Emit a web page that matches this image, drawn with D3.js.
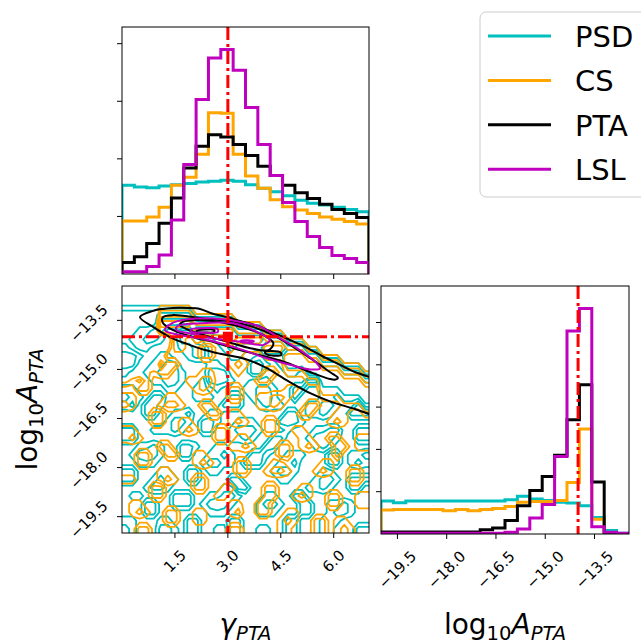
<!DOCTYPE html>
<html>
<head>
<meta charset="utf-8">
<script src="https://cdn.jsdelivr.net/npm/d3@7"></script>
<style>
  body { margin: 0; background: #fff; }
  svg text { font-family: "DejaVu Sans", sans-serif; }
</style>
</head>
<body>
<svg id="fig" width="641" height="644"></svg>
<script>
// series and colours (matplotlib c / orange / k / m)
const seriesNames = ["PSD", "CS", "PTA", "LSL"];
const seriesColors = ["#00bfbf", "#ffa500", "#000000", "#bf00bf"];

// axis ranges, ticks and injected values
const gammaRange = [0, 7];
const logARange = [-20, -12.45];
const gammaTicks = [1.5, 3.0, 4.5, 6.0];
const logATicks = [-19.5, -18.0, -16.5, -15.0, -13.5];
const gammaTrue = 3.0;
const logATrue = -14.0;

// 1D marginals, 20 bins each
const gammaPSD = [1.54,1.51,1.50,1.53,1.55,1.57,1.60,1.61,1.63,1.61,1.55,1.49,1.43,1.36,1.28,1.23,1.20,1.16,1.12,1.08];
const gammaCS  = [0.92,0.92,0.99,1.16,1.54,1.68,2.08,2.80,2.79,2.08,1.70,1.49,1.29,1.17,1.11,1.05,0.99,0.95,0.91,0.87];
const gammaPTA = [0.20,0.30,0.53,0.88,1.32,1.84,2.22,2.42,2.38,2.25,2.06,1.87,1.71,1.54,1.41,1.31,1.21,1.12,1.05,0.98];
const gammaLSL = [0.04,0.04,0.13,0.33,0.94,1.90,3.03,3.75,3.90,3.54,2.89,2.25,1.71,1.24,0.91,0.65,0.46,0.32,0.27,0.20];

const logAPSD = [0.78,0.74,0.78,0.78,0.78,0.78,0.78,0.78,0.78,0.78,0.81,0.89,0.83,0.79,0.75,0.73,0.67,0.39,0.08,0.02];
const logACS  = [0.57,0.58,0.58,0.58,0.58,0.55,0.58,0.55,0.58,0.60,0.65,0.75,0.77,0.77,0.79,1.22,2.48,0.35,0.02,0.00];
const logAPTA = [0.05,0.05,0.05,0.05,0.05,0.05,0.05,0.05,0.10,0.14,0.32,0.67,1.03,1.36,1.86,2.70,3.53,1.23,0.02,0.00];
const logALSL = [0.02,0.02,0.02,0.02,0.02,0.02,0.02,0.02,0.02,0.02,0.04,0.12,0.38,0.70,1.83,4.80,5.33,0.17,0.04,0.02];

const histTicksTop = [1, 2, 3, 4];
const histTicksRight = [1, 2, 3, 4, 5];

// 2D histograms for PSD and CS (35 gamma bins x 30 logA bins, top row = high logA)
const psdGrid = [
"00000 00000 00000 00000 00000 00000 00000",
"00000 00000 00000 00000 00000 00000 00000",
"44444 44444 00000 00000 00000 00000 00000",
"55555 66666 44444 40000 00000 00000 00000",
"55555 77777 66666 64444 00000 00000 00000",
"55667 75533 77777 76666 44400 00000 00000",
"56677 65533 45566 77777 66644 40000 00000",
"45665 55544 33556 76666 88866 64400 00000",
"33455 66554 33555 66554 66688 86644 40000",
"33556 67755 55445 55533 45677 78866 64440",
"45566 77765 55333 55533 55566 57788 86664",
"55556 68765 56333 45566 65555 53388 88886",
"66555 56655 66545 55667 76553 35566 68888",
"76653 35555 66655 33567 86553 55566 56668",
"67533 45555 55553 33556 76655 56677 65536",
"55533 55667 55445 55555 55533 56676 55333",
"55555 56776 53345 56665 55333 45555 55555",
"33556 66765 53355 67776 55545 55667 75533",
"33555 55555 55555 66765 53355 56787 65533",
"55667 65533 45566 55555 33555 55676 55555",
"56787 65533 55667 65533 45566 65553 35667",
"55666 55555 56776 65333 55667 55553 35676",
"33555 66553 35665 55555 56776 55566 55555",
"33556 76653 35555 33555 55665 55677 65333",
"55567 76555 55556 63355 55555 56676 55335",
"56655 55333 55667 76555 66553 35555 55555",
"55533 55333 56787 65556 77655 33556 67655",
"55533 55555 55666 55556 66555 33556 77655",
"66555 66553 35555 33555 55533 55566 65555",
"76555 77653 35566 33556 65533 55566 55533"
];
const csGrid = [
"00000 00000 00000 00000 00000 00000 00000",
"00000 00000 00000 00000 00000 00000 00000",
"11111 44444 00000 00000 00000 00000 00000",
"11111 55555 44444 40000 00000 00000 00000",
"11111 77777 55555 54444 00000 00000 00000",
"11111 66666 77777 75555 44400 00000 00000",
"11111 12665 66666 67777 55544 40000 00000",
"11111 13665 53355 56666 77755 54400 00000",
"11111 25555 53355 66555 66677 75544 40000",
"11111 53355 55555 67655 55588 87755 54440",
"12234 33555 56655 56555 33566 68877 75554",
"34535 55556 67755 55553 35555 56688 87775",
"55335 55555 67655 33555 55566 55588 88887",
"66555 56655 55555 33556 67765 55566 68888",
"76555 67765 53355 55556 67655 53355 56668",
"55553 35555 55335 66555 55555 33555 66556",
"55553 35566 55555 67655 33555 55556 76555",
"66555 55567 65533 55555 33556 65555 55555",
"67655 55555 55533 56655 55555 66553 35566",
"55555 33555 55555 66765 55335 67655 33566",
"55335 53355 66555 55555 55335 55555 35555",
"55335 55555 67655 53355 56655 55566 55555",
"55555 66555 55555 53355 67765 55676 55335",
"66555 67655 33555 55555 55555 55555 55335",
"55553 35555 33556 65555 33555 66555 55555",
"55553 35555 55566 55555 33556 76553 35566",
"56655 55555 55555 66553 35555 55553 35566",
"56765 53355 66555 67553 35566 55555 55555",
"55555 53355 66555 55555 55676 55335 66555",
"55335 55555 55555 33555 55665 55335 67655"
];
const gridLevels = [3.5, 4.5, 5.5, 6.5];

// PTA and LSL credible contours, [gamma, log10A] points
const ptaContours = [
  [[0.51,-13.40],[0.88,-13.21],[1.16,-13.15],[1.45,-13.12],[1.84,-13.12],[2.21,-13.15],[2.55,-13.29],[2.98,-13.40],[3.34,-13.52],[3.85,-13.67],[4.25,-13.86],[4.70,-14.07],[5.19,-14.31],[5.67,-14.59],[6.12,-14.83],[6.60,-15.08],[7.03,-15.23],[7.40,-15.30],[7.40,-16.50],[7.08,-16.39],[6.60,-16.21],[5.95,-16.00],[5.38,-15.75],[4.70,-15.35],[4.05,-14.93],[3.49,-14.68],[2.78,-14.52],[2.30,-14.39],[1.84,-14.22],[1.36,-14.01],[0.88,-13.70]],
  [[1.16,-13.40],[1.45,-13.34],[2.21,-13.43],[3.15,-13.55],[3.71,-13.70],[4.28,-13.95],[4.85,-14.31],[5.41,-14.71],[5.89,-15.08],[6.12,-15.26],[6.05,-15.31],[5.89,-15.29],[5.33,-15.08],[4.68,-14.80],[4.11,-14.62],[3.34,-14.41],[2.69,-14.19],[2.01,-14.01],[1.45,-13.80],[1.16,-13.58]],
  [[1.64,-13.64],[1.74,-13.54],[2.49,-13.51],[3.34,-13.69],[4.00,-13.95],[4.29,-14.20],[4.15,-14.41],[3.63,-14.35],[2.97,-14.15],[2.30,-13.95],[1.83,-13.77]],
  [[4.05,-14.47],[4.25,-14.44],[4.50,-14.49],[4.52,-14.55],[4.30,-14.58],[4.08,-14.53]],
  [[2.12,-13.82],[2.35,-13.78],[2.62,-13.80],[2.60,-13.86],[2.35,-13.87],[2.14,-13.85]]
];
const lslContours = [
  [[1.22,-13.80],[1.41,-13.59],[1.83,-13.47],[2.59,-13.44],[3.34,-13.54],[3.91,-13.69],[4.48,-14.05],[5.04,-14.41],[5.52,-14.81],[5.61,-14.97],[5.33,-15.00],[4.76,-14.86],[4.10,-14.66],[3.44,-14.41],[2.78,-14.20],[2.21,-14.05],[1.64,-13.95]],
  [[1.55,-13.69],[2.21,-13.59],[3.15,-13.59],[3.82,-13.85],[4.19,-14.10],[4.01,-14.25],[3.34,-14.15],[2.58,-14.05],[1.93,-13.90],[1.55,-13.80]],
  [[1.95,-13.78],[2.30,-13.74],[2.70,-13.76],[2.72,-13.85],[2.30,-13.88],[1.97,-13.85]],
  [[3.36,-14.13],[3.55,-14.11],[3.74,-14.14],[3.55,-14.18],[3.38,-14.17]]
];

// ---------------------------------------------------------------
const svg = d3.select("#fig");
const redDash = "13,4,3,4";

// panel boxes
const pTop = { x0: 122, x1: 369, y0: 27, y1: 274 };
const p2d = { x0: 122, x1: 369, y0: 286, y1: 533 };
const pRight = { x0: 381, x1: 629, y0: 286, y1: 534 };

const xG = d3.scaleLinear().domain(gammaRange).range([pTop.x0, pTop.x1]);
const yA = d3.scaleLinear().domain(logARange).range([p2d.y1, p2d.y0]);
const xA = d3.scaleLinear().domain(logARange).range([pRight.x0, pRight.x1]);

const topMax = d3.max([gammaPSD, gammaCS, gammaPTA, gammaLSL].flat());
const rightMax = d3.max([logAPSD, logACS, logAPTA, logALSL].flat());
const yTop = d3.scaleLinear().domain([0, 1.1 * topMax]).range([pTop.y1, pTop.y0]);
const yRight = d3.scaleLinear().domain([0, 1.1 * rightMax]).range([pRight.y1, pRight.y0]);

const defs = svg.append("defs");
function clip(id, p) {
  defs.append("clipPath").attr("id", id).append("rect")
    .attr("x", p.x0).attr("y", p.y0).attr("width", p.x1 - p.x0).attr("height", p.y1 - p.y0);
}
clip("cTop", pTop); clip("c2d", p2d); clip("cRight", pRight);

function stepPoints(values, range) {
  const n = values.length;
  const edges = d3.range(n + 1).map(i => range[0] + (range[1] - range[0]) * i / n);
  const pts = [[edges[0], 0]];
  values.forEach((v, i) => { pts.push([edges[i], v]); pts.push([edges[i + 1], v]); });
  pts.push([edges[n], 0]);
  return pts;
}

// ---- top: gamma marginal
const gTop = svg.append("g").attr("clip-path", "url(#cTop)");
[gammaPSD, gammaCS, gammaPTA, gammaLSL].forEach((vals, k) => {
  gTop.append("path")
    .attr("d", d3.line().x(d => xG(d[0])).y(d => yTop(d[1]))(stepPoints(vals, gammaRange)))
    .attr("fill", "none").attr("stroke", seriesColors[k]).attr("stroke-width", 3);
});
gTop.append("line")
  .attr("x1", xG(gammaTrue)).attr("x2", xG(gammaTrue)).attr("y1", pTop.y0).attr("y2", pTop.y1)
  .attr("stroke", "#ff0000").attr("stroke-width", 3).attr("stroke-dasharray", redDash);

// ---- right: logA marginal
const gRight = svg.append("g").attr("clip-path", "url(#cRight)");
[logAPSD, logACS, logAPTA, logALSL].forEach((vals, k) => {
  gRight.append("path")
    .attr("d", d3.line().x(d => xA(d[0])).y(d => yRight(d[1]))(stepPoints(vals, logARange)))
    .attr("fill", "none").attr("stroke", seriesColors[k]).attr("stroke-width", 3);
});
gRight.append("line")
  .attr("x1", xA(logATrue)).attr("x2", xA(logATrue)).attr("y1", pRight.y0).attr("y2", pRight.y1)
  .attr("stroke", "#ff0000").attr("stroke-width", 3).attr("stroke-dasharray", redDash);

// ---- 2D panel
const g2d = svg.append("g").attr("clip-path", "url(#c2d)");

function gridContours(rows, color) {
  const grid = rows.map(r => r.replace(/ /g, "").split("").map(Number));
  const ny = grid.length, nx = grid[0].length;
  const vals = [];
  for (let j = -1; j <= ny; j++) {
    const jj = Math.max(0, Math.min(ny - 1, j));
    for (let i = -1; i <= nx; i++) {
      const ii = Math.max(0, Math.min(nx - 1, i));
      vals.push(grid[jj][ii]);
    }
  }
  const cs = d3.contours().size([nx + 2, ny + 2]).thresholds(gridLevels)(vals);
  const gx = x => xG(gammaRange[0] + (x - 1) * (gammaRange[1] - gammaRange[0]) / nx);
  const gy = y => yA(logARange[1] - (y - 1) * (logARange[1] - logARange[0]) / ny);
  cs.forEach(c => {
    let d = "";
    c.coordinates.forEach(poly => poly.forEach(ring => {
      d += "M" + ring.map(p => gx(p[0]).toFixed(1) + "," + gy(p[1]).toFixed(1)).join("L") + "Z";
    }));
    g2d.append("path").attr("d", d).attr("fill", "none")
      .attr("stroke", color).attr("stroke-width", 1.8).attr("stroke-linejoin", "round");
  });
}
gridContours(psdGrid, seriesColors[0]);
gridContours(csGrid, seriesColors[1]);

const ringLine = d3.line().x(d => xG(d[0])).y(d => yA(d[1])).curve(d3.curveCatmullRomClosed.alpha(0.5));
[[ptaContours, seriesColors[2]], [lslContours, seriesColors[3]]].forEach(([rings, color]) => {
  rings.forEach(r => g2d.append("path").attr("d", ringLine(r)).attr("fill", "none")
    .attr("stroke", color).attr("stroke-width", 2));
});

g2d.append("line")
  .attr("x1", xG(gammaTrue)).attr("x2", xG(gammaTrue)).attr("y1", p2d.y0).attr("y2", p2d.y1)
  .attr("stroke", "#ff0000").attr("stroke-width", 3).attr("stroke-dasharray", redDash);
g2d.append("line")
  .attr("x1", p2d.x0).attr("x2", p2d.x1).attr("y1", yA(logATrue)).attr("y2", yA(logATrue))
  .attr("stroke", "#ff0000").attr("stroke-width", 3).attr("stroke-dasharray", redDash);
g2d.append("rect")
  .attr("x", xG(gammaTrue) - 5).attr("y", yA(logATrue) - 5).attr("width", 10).attr("height", 10)
  .attr("fill", "#ff0000");

// ---- frames and ticks
function frame(p) {
  svg.append("rect").attr("x", p.x0).attr("y", p.y0)
    .attr("width", p.x1 - p.x0).attr("height", p.y1 - p.y0)
    .attr("fill", "none").attr("stroke", "#000").attr("stroke-width", 1);
}
frame(pTop); frame(p2d); frame(pRight);

const tickFont = 15;
function tickText(t) {
  return svg.append("text").text(d3.format(".1f")(t).replace("-", "\u2212"))
    .attr("font-size", tickFont).attr("text-anchor", "middle").attr("dominant-baseline", "central");
}
function xTicks(scale, ticks, yBase, labels) {
  ticks.forEach(t => {
    svg.append("line").attr("x1", scale(t)).attr("x2", scale(t)).attr("y1", yBase).attr("y2", yBase + 5)
      .attr("stroke", "#000");
    if (labels) {
      const txt = tickText(t);
      const side = (txt.node().getComputedTextLength() + tickFont * 1.1) / Math.SQRT2;
      txt.attr("transform", `translate(${scale(t)},${yBase + 14 + side / 2}) rotate(-45)`);
    }
  });
}
function yTicks(scale, ticks, xBase, labels) {
  ticks.forEach(t => {
    svg.append("line").attr("x1", xBase - 5).attr("x2", xBase).attr("y1", scale(t)).attr("y2", scale(t))
      .attr("stroke", "#000");
    if (labels) {
      const txt = tickText(t);
      const side = (txt.node().getComputedTextLength() + tickFont * 1.1) / Math.SQRT2;
      txt.attr("transform", `translate(${xBase - 11 - side / 2},${scale(t) + 3}) rotate(-45)`);
    }
  });
}
xTicks(xG, gammaTicks, pTop.y1, false);
yTicks(yTop, histTicksTop, pTop.x0, false);
xTicks(xG, gammaTicks, p2d.y1, true);
yTicks(yA, logATicks, p2d.x0, true);
xTicks(xA, logATicks, pRight.y1, true);
yTicks(yRight, histTicksRight, pRight.x0, false);

// ---- axis labels
function mathLabel(parts, size) {
  const t = svg.append("text").attr("font-size", size);
  let shift = 0;
  parts.forEach(p => {
    const want = p.sub ? Math.round(size * 0.22) : 0;
    const sp = t.append("tspan").text(p.t).attr("dy", want - shift);
    if (p.sub) sp.attr("font-size", size * 0.7);
    if (p.it) sp.attr("font-style", "italic");
    shift = want;
  });
  return t;
}
mathLabel([{ t: "\u03b3", it: true }, { t: "PTA", it: true, sub: true }], 28)
  .attr("text-anchor", "middle").attr("x", (p2d.x0 + p2d.x1) / 2).attr("y", 634);
mathLabel([{ t: "log" }, { t: "10", sub: true }, { t: "A", it: true }, { t: "PTA", it: true, sub: true }], 28)
  .attr("text-anchor", "middle").attr("x", (pRight.x0 + pRight.x1) / 2).attr("y", 634);
mathLabel([{ t: "log" }, { t: "10", sub: true }, { t: "A", it: true }, { t: "PTA", it: true, sub: true }], 28)
  .attr("text-anchor", "middle").attr("transform", `translate(37,${(p2d.y0 + p2d.y1) / 2}) rotate(-90)`);

// ---- legend
const leg = svg.append("g");
leg.append("rect").attr("x", 480).attr("y", 12).attr("width", 180).attr("height", 185).attr("rx", 6)
  .attr("fill", "#fff").attr("fill-opacity", 0.8).attr("stroke", "#cccccc");
seriesNames.forEach((name, k) => {
  const y = 36 + k * 44.4;
  leg.append("line").attr("x1", 488).attr("x2", 551).attr("y1", y).attr("y2", y)
    .attr("stroke", seriesColors[k]).attr("stroke-width", 3);
  leg.append("text").attr("x", 575).attr("y", y + 11).attr("font-size", 29).text(name);
});
</script>
</body>
</html>
